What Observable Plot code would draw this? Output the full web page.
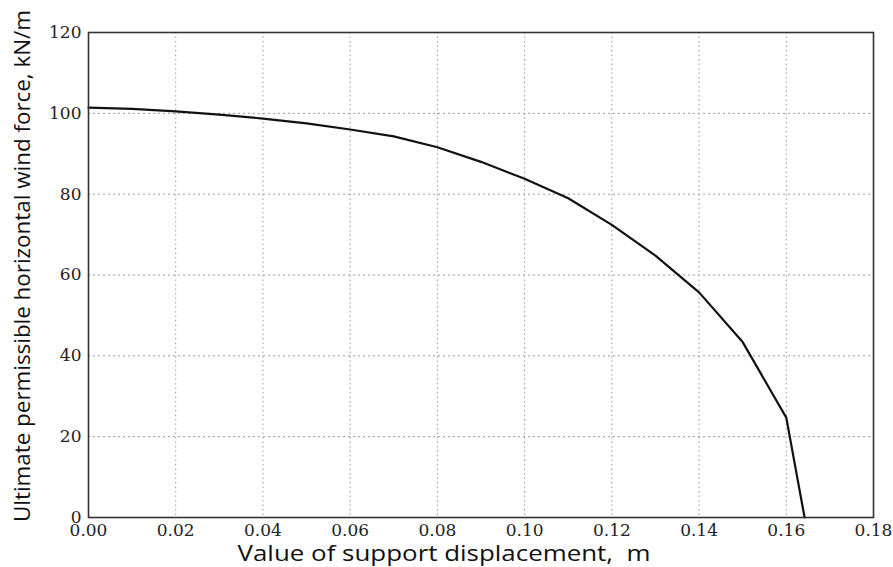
<!DOCTYPE html>
<html>
<head>
<meta charset="utf-8">
<script src="https://cdn.jsdelivr.net/npm/d3@7"></script>
<script src="https://cdn.jsdelivr.net/npm/@observablehq/plot@0.6"></script>
<style>
  html, body { margin: 0; padding: 0; background: #fff; }
  #chart svg { display: block; }
</style>
</head>
<body>
<div id="chart"></div>
<script>
// Support displacement (m)
const displacement = [0.00, 0.01, 0.02, 0.03, 0.04, 0.05, 0.06, 0.07, 0.08, 0.09, 0.10, 0.11, 0.12, 0.13, 0.14, 0.15, 0.16, 0.1642];
// Ultimate permissible horizontal wind force (kN/m)
const force = [101.4, 101.1, 100.5, 99.7, 98.7, 97.5, 96.0, 94.3, 91.6, 88.0, 83.8, 79.0, 72.4, 64.8, 55.7, 43.4, 24.7, 0];

const xTicks = [0.00, 0.02, 0.04, 0.06, 0.08, 0.10, 0.12, 0.14, 0.16, 0.18];
const yTicks = [0, 20, 40, 60, 80, 100, 120];

const xLabel = "Value of support displacement,  m";
const yLabel = "Ultimate permissible horizontal wind force, kN/m";

const data = displacement.map((d, i) => ({x: d, y: force[i]}));

const tickFont = {fontFamily: "DejaVu Serif", fontSize: 17, fill: "#222"};

const chart = Plot.plot({
  width: 893,
  height: 567,
  marginLeft: 88,
  marginRight: 20,
  marginTop: 32,
  marginBottom: 50,
  style: {background: "#fff"},
  x: {domain: [0, 0.18]},
  y: {domain: [0, 120]},
  marks: [
    Plot.gridX(xTicks, {stroke: "#999", strokeOpacity: 1, strokeDasharray: "1.5,3"}),
    Plot.gridY(yTicks, {stroke: "#999", strokeOpacity: 1, strokeDasharray: "2,3"}),
    Plot.axisX(xTicks, {anchor: "bottom", tickSize: 0, tickPadding: 6, tickFormat: d => d.toFixed(2), label: null, ...tickFont}),
    Plot.axisY(yTicks, {anchor: "left", tickSize: 0, tickPadding: 7, label: null, ...tickFont}),
    Plot.line(data, {x: "x", y: "y", stroke: "#111", strokeWidth: 2.2}),
    Plot.frame({stroke: "#333", strokeWidth: 1.6}),
    Plot.text([xLabel], {frameAnchor: "bottom", dx: -37, dy: 37, lineAnchor: "middle", fontFamily: "Open Sans", fontSize: 21, fill: "#111", className: "xlab"}),
    Plot.text([yLabel], {frameAnchor: "left", rotate: -90, dx: -66, dy: -9, lineAnchor: "middle", fontFamily: "Open Sans", fontSize: 22, fill: "#111", className: "ylab"})
  ]
});

document.getElementById("chart").appendChild(chart);

// Fit the axis titles to the lengths seen in the reference (start-anchored so Chrome centres them reliably)
function fit(sel, len) {
  d3.select(chart).selectAll(sel + " text")
    .attr("text-anchor", "start")
    .attr("x", -len / 2)
    .attr("textLength", len)
    .attr("lengthAdjust", "spacingAndGlyphs");
}
fit(".xlab", 413);
fit(".ylab", 512);
</script>
</body>
</html>
